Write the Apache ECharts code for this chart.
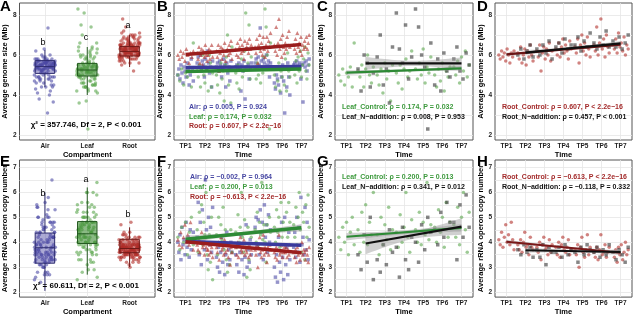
<!DOCTYPE html>
<html>
<head>
<meta charset="utf-8">
<script src="https://cdn.jsdelivr.net/npm/echarts@6/dist/echarts.min.js"></script>
<style>html,body{margin:0;padding:0;background:#fff}#chart{width:635px;height:317px}</style>
</head>
<body>
<div id="chart"></div>
<script>
var FONT = '"Liberation Sans", Arial, sans-serif';
var timePoints = ['TP1', 'TP2', 'TP3', 'TP4', 'TP5', 'TP6', 'TP7'];
var compartments = ['Air', 'Leaf', 'Root'];

// average genome size (Mb), one list per time point
var gsAir = [
    [5.0, 5.3, 4.8, 5.5, 5.1, 4.6, 5.4, 5.2, 4.9, 5.6, 5.3, 4.5, 5.0, 5.8, 5.2, 4.7],
    [5.6, 5.9, 5.4, 6.0, 5.2, 5.7, 5.5, 4.9, 5.8, 5.3, 6.2, 5.6, 5.1, 5.4, 4.4, 5.7],
    [5.4, 5.6, 5.2, 5.7, 5.5, 4.9, 5.3, 5.8, 5.5, 4.4, 5.6, 5.1, 5.4, 4.7, 5.7, 5.3],
    [5.4, 5.5, 5.3, 5.6, 5.4, 4.2, 5.5, 5.2, 5.7, 3.8, 5.4, 6.3, 5.5, 4.8, 5.3, 5.6],
    [5.6, 5.8, 5.4, 5.9, 5.5, 7.35, 5.7, 5.3, 5.8, 5.6, 5.4, 6.0, 5.5, 5.7, 4.9, 5.6],
    [4.6, 4.3, 5.0, 4.8, 4.5, 5.4, 4.1, 4.9, 5.5, 4.7, 3.1, 5.3, 4.4, 5.6, 4.9, 4.0],
    [5.5, 5.6, 5.4, 5.7, 5.5, 5.3, 5.6, 4.8, 5.5, 3.65, 5.6, 5.4, 5.7, 5.2, 5.5, 5.8]
];
var gsLeafCtrl = [
    [5.0, 4.7, 5.3, 4.5, 5.1, 4.9, 5.4, 4.4, 6.6],
    [5.2, 4.9, 5.5, 4.4, 5.3, 6.0, 5.0, 4.6, 5.4],
    [5.0, 4.5, 5.3, 4.1, 5.6, 4.8, 5.2, 3.7, 5.5],
    [5.1, 4.6, 5.5, 4.3, 5.3, 5.8, 4.9, 5.2, 6.2],
    [5.3, 4.8, 5.6, 5.0, 6.3, 4.6, 5.4, 5.1, 5.9],
    [5.0, 4.4, 5.3, 4.7, 5.6, 4.2, 5.2, 4.9, 5.4],
    [5.4, 5.0, 5.7, 4.6, 5.9, 5.2, 6.2, 4.9, 5.5]
];
var gsLeafN = [
    [],
    [5.3, 4.2, 6.0, 5.6, 4.4, 5.1],
    [5.9, 7.0, 4.5, 5.3, 3.6, 6.4],
    [8.1, 6.3, 5.6, 7.5, 4.8, 5.9],
    [8.3, 7.4, 6.0, 5.4, 2.3, 6.6],
    [4.5, 5.8, 4.2, 6.1, 5.2, 4.9],
    [5.8, 6.4, 5.2, 4.8, 6.1, 5.5]
];
var gsRootCtrl = [
    [6.0, 5.8, 6.2, 5.9, 6.1, 5.7, 6.3, 6.0, 5.6, 6.1, 5.9, 6.2],
    [6.1, 5.8, 6.4, 5.6, 6.0, 6.3, 5.5, 6.2, 5.9, 6.5, 6.0, 5.7],
    [6.2, 5.9, 6.5, 5.2, 6.1, 6.4, 5.8, 6.3, 6.0, 6.6, 5.7, 6.2],
    [6.3, 6.0, 6.6, 5.9, 6.4, 6.8, 6.1, 6.5, 6.2, 5.8, 6.7, 6.3],
    [6.4, 6.1, 6.8, 5.6, 6.5, 7.0, 6.2, 6.6, 6.0, 6.9, 6.3, 5.9],
    [6.5, 6.2, 7.4, 6.0, 6.6, 7.8, 6.3, 6.8, 5.9, 7.0, 6.4, 6.1],
    [6.5, 6.3, 6.8, 6.1, 7.1, 6.4, 6.6, 6.2, 6.9, 6.0, 6.5, 6.3]
];
var gsRootN = [
    [],
    [6.0, 6.3, 5.8, 6.2, 6.5, 5.9],
    [6.3, 6.0, 6.5, 6.1, 6.7, 5.8],
    [6.4, 6.6, 6.1, 6.8, 6.3, 6.5],
    [6.5, 6.9, 6.2, 6.7, 6.4, 7.1],
    [6.6, 6.3, 6.9, 6.5, 7.2, 6.4],
    [6.7, 6.4, 6.9, 6.3, 6.6, 7.0]
];

// average rRNA operon copy number, one list per time point
var cnAir = [
    [4.0, 3.6, 4.3, 3.3, 4.6, 3.9, 4.1, 3.5, 4.8, 3.8, 4.2, 3.4, 4.5, 3.7, 4.0, 4.4],
    [4.2, 5.6, 3.5, 4.8, 3.1, 5.3, 4.0, 3.7, 6.5, 4.5, 3.3, 5.0, 3.9, 4.6, 3.6, 5.4],
    [3.4, 3.0, 3.8, 2.8, 3.6, 4.2, 3.2, 3.9, 2.7, 3.5, 4.4, 3.1, 3.7, 3.3, 4.0, 3.6],
    [3.5, 3.1, 3.9, 2.8, 3.6, 4.3, 3.3, 3.8, 2.7, 3.4, 4.7, 3.0, 3.7, 3.2, 4.1, 3.5],
    [4.6, 5.0, 3.8, 4.9, 3.5, 5.3, 4.4, 4.8, 3.3, 5.5, 4.2, 4.7, 3.6, 5.1, 4.0, 4.5],
    [3.0, 2.6, 3.5, 2.4, 4.2, 3.2, 2.8, 4.8, 3.4, 2.5, 5.0, 3.1, 3.8, 2.7, 4.4, 3.3],
    [3.8, 4.4, 3.4, 5.0, 3.6, 4.6, 3.2, 5.8, 3.9, 4.2, 3.5, 5.4, 3.7, 4.8, 3.3, 4.1]
];
var cnLeafCtrl = [
    [4.2, 3.7, 4.6, 4.0, 4.8, 3.5, 4.4, 5.0, 3.9],
    [4.5, 3.6, 5.2, 4.0, 5.5, 3.9, 4.8, 4.3, 6.0],
    [4.3, 3.5, 5.0, 3.9, 4.7, 4.1, 5.4, 3.7, 4.5],
    [4.4, 3.8, 5.1, 4.0, 4.6, 6.0, 4.2, 3.6, 4.9],
    [4.5, 4.0, 5.2, 3.9, 4.8, 4.3, 6.4, 4.1, 4.7],
    [4.6, 4.0, 5.3, 4.4, 5.0, 3.8, 5.6, 4.2, 4.8],
    [4.7, 4.2, 5.4, 3.9, 5.0, 6.0, 4.5, 3.6, 5.2]
];
var cnLeafN = [
    [],
    [3.5, 2.9, 4.3, 3.2, 5.0, 2.5],
    [3.3, 2.8, 3.9, 3.1, 4.5, 3.6],
    [3.8, 2.6, 4.6, 3.3, 2.9, 4.2],
    [4.0, 3.2, 4.7, 3.7, 5.0, 4.4],
    [4.5, 3.9, 5.2, 4.2, 5.6, 4.8],
    [4.8, 3.3, 5.5, 4.2, 5.9, 4.6]
];
var cnRootCtrl = [
    [4.1, 3.9, 4.4, 3.8, 4.2, 4.7, 4.0, 4.3, 3.9, 4.8, 4.1, 3.7],
    [3.9, 3.7, 4.1, 3.6, 4.0, 4.4, 3.8, 3.9, 3.5, 4.2, 3.8, 3.7],
    [3.8, 3.6, 4.0, 3.3, 3.9, 4.2, 3.7, 3.8, 3.5, 4.1, 3.6, 3.9],
    [3.8, 3.5, 4.0, 3.4, 3.9, 4.2, 3.7, 3.6, 3.8, 4.1, 3.5, 3.7],
    [3.7, 3.5, 3.9, 3.0, 3.8, 4.2, 3.6, 3.4, 3.7, 4.3, 3.5, 3.8],
    [3.6, 3.4, 3.8, 3.3, 3.7, 4.3, 3.5, 3.6, 3.9, 3.4, 3.6, 3.8],
    [3.6, 3.4, 3.7, 3.2, 3.8, 3.5, 3.9, 3.3, 3.6, 4.0, 3.5, 3.7]
];
var cnRootN = [
    [],
    [3.7, 3.5, 3.9, 3.6, 3.8, 3.4],
    [3.7, 3.4, 3.9, 3.1, 3.8, 3.6],
    [3.6, 3.8, 3.4, 3.9, 3.5, 3.7],
    [3.6, 3.2, 3.8, 3.5, 3.9, 3.7],
    [3.6, 3.8, 3.4, 3.7, 3.5, 3.9],
    [3.6, 3.3, 3.7, 3.5, 3.2, 3.8]
];

// box stats [lower whisker, Q1, median, Q3, upper whisker]
var boxGsAir = [4.4, 5.08, 5.42, 5.72, 6.25];
var boxGsLeaf = [4.0, 4.95, 5.25, 5.58, 6.4];
var boxGsRoot = [5.4, 5.95, 6.18, 6.42, 7.0];
var boxCnAir = [2.05, 3.16, 3.78, 4.37, 6.0];
var boxCnLeaf = [2.7, 3.95, 4.34, 4.83, 6.2];
var boxCnRoot = [3.0, 3.58, 3.75, 4.12, 4.6];
var letterGs = ['b', 'c', 'a'];
var letterCn = ['b', 'a', 'b'];

// fitted lines [x1, y1, x2, y2] and CI half widths [start, middle, end]
var fitGsAir = [1, 5.38, 7, 5.42];
var fitGsLeaf = [1, 5.17, 7, 5.30];
var fitGsRoot = [1, 6.03, 7, 6.53];
var fitGsLeafCtrl = [1, 5.12, 7, 5.33], ciGsLeafCtrl = [0.12, 0.06, 0.12];
var fitGsLeafN = [2, 5.58, 7, 5.58], ciGsLeafN = [0.32, 0.13, 0.30];
var fitGsRootCtrl = [1, 6.03, 7, 6.52], ciGsRootCtrl = [0.08, 0.04, 0.08];
var fitGsRootN = [2, 6.12, 7, 6.58], ciGsRootN = [0.12, 0.06, 0.12];
var fitCnAir = [1, 4.03, 7, 3.88];
var fitCnLeaf = [1, 4.12, 7, 4.58], ciCnLeaf = [0.15, 0.07, 0.15];
var fitCnRoot = [1, 4.02, 7, 3.58];
var fitCnLeafCtrl = [1, 4.22, 7, 4.58], ciCnLeafCtrl = [0.15, 0.08, 0.15];
var fitCnLeafN = [2, 3.95, 7, 4.63], ciCnLeafN = [0.43, 0.15, 0.33];
var fitCnRootCtrl = [1, 4.02, 7, 3.58], ciCnRootCtrl = [0.08, 0.04, 0.08];
var fitCnRootN = [2, 3.68, 7, 3.61], ciCnRootN = [0.10, 0.05, 0.10];

var colAir = '#4f4ca6', colLeaf = '#5ba64f', colRoot = '#b3302c', colN = '#333333';
var lnAir = '#3a3a9c', lnLeaf = '#2d8a35', lnRoot = '#9a1d1d', lnN = '#111111';
var txAir = '#4747a3', txLeaf = '#3d9a3d', txRoot = '#a32a2a';
var GRID_C = '#e6e6e6';

var grids = [
    {left: 17, top: 3, width: 138, height: 137},
    {left: 174, top: 3, width: 139, height: 137},
    {left: 335, top: 3, width: 138, height: 137},
    {left: 495, top: 3, width: 138, height: 137},
    {left: 17, top: 160, width: 138, height: 138},
    {left: 174, top: 160, width: 139, height: 138},
    {left: 335, top: 160, width: 138, height: 138},
    {left: 495, top: 160, width: 138, height: 138}
];
grids.forEach(function (g) {
    g.show = true; g.borderColor = '#555'; g.borderWidth = 1; g.backgroundColor = '#fff';
});

function near(v) { var r = Math.round(v); return Math.abs(v - r) < 1e-6 ? r : null; }

function xAxisFor(gi) {
    var isBox = gi === 0 || gi === 4;
    return {
        type: 'value', gridIndex: gi, min: 0.4, max: isBox ? 3.6 : 7.6, interval: 0.2,
        name: isBox ? 'Compartment' : 'Time', nameLocation: 'middle', nameGap: 9,
        nameTextStyle: {fontFamily: FONT, fontWeight: 'bold', fontSize: 7.5, color: '#000'},
        axisLine: {show: false}, axisTick: {show: false},
        axisLabel: {
            margin: 3, fontFamily: FONT, fontWeight: 'bold', fontSize: 6.5, color: '#222',
            formatter: function (v) {
                var r = near(v);
                if (r === null || r < 1) return '';
                if (isBox) return r <= 3 ? compartments[r - 1] : '';
                return r <= 7 ? timePoints[r - 1] : '';
            }
        },
        splitLine: {show: true, lineStyle: {width: 0.8, color: ['rgba(0,0,0,0)', 'rgba(0,0,0,0)', 'rgba(0,0,0,0)', GRID_C, 'rgba(0,0,0,0)']}}
    };
}

function yAxisFor(gi) {
    var row1 = gi < 4;
    var none = 'rgba(0,0,0,0)';
    return {
        type: 'value', gridIndex: gi,
        min: row1 ? 1.75 : 1.8, max: row1 ? 8.6 : 7.3, interval: row1 ? 0.25 : 0.1,
        name: row1 ? 'Average genome size (Mb)' : 'Average rRNA operon copy number',
        nameLocation: 'middle', nameGap: 8,
        nameTextStyle: {fontFamily: FONT, fontWeight: 'bold', fontSize: 7.5, color: '#000'},
        axisLine: {show: false}, axisTick: {show: false},
        axisLabel: {
            margin: 3, fontFamily: FONT, fontWeight: 'bold', fontSize: 6.5, color: '#222',
            formatter: function (v) {
                var r = near(v);
                if (r === null) return '';
                if (row1) return r % 2 === 0 ? r : '';
                return r >= 2 && r <= 7 ? r : '';
            }
        },
        splitLine: {show: true, lineStyle: {width: 0.8,
            color: row1 ? [none, GRID_C, none, none] : [none, none, GRID_C, none, none]}}
    };
}

function byTime(lists, w) {
    var out = [];
    lists.forEach(function (vals, t) {
        var n = vals.length;
        vals.forEach(function (v, i) {
            out.push([t + 1 + (n > 1 ? -w + 2 * w * i / (n - 1) : 0), v]);
        });
    });
    return out;
}
function mergeTime(a, b) {
    return a.map(function (l, t) { return l.concat(b[t]); });
}
function pooled(listsArr, cx, w) {
    var vals = [];
    listsArr.forEach(function (lists) {
        lists.forEach(function (l) { vals = vals.concat(l); });
    });
    return vals.map(function (v, i) {
        var f = (i * 0.6180339887) % 1;
        return [cx - w + 2 * w * f, v];
    });
}

function scatter(gi, data, color, symbol, size) {
    return {type: 'scatter', xAxisIndex: gi, yAxisIndex: gi, data: data, symbol: symbol,
        symbolSize: size || 3.5, itemStyle: {color: color, opacity: 0.6}, silent: true, z: 2};
}
function fitLine(gi, fit, color, width) {
    return {type: 'line', xAxisIndex: gi, yAxisIndex: gi, data: [[fit[0], fit[1]], [fit[2], fit[3]]],
        symbol: 'none', lineStyle: {color: color, width: width}, silent: true, z: 5};
}
function band(gi, fit, ci) {
    return {
        type: 'custom', xAxisIndex: gi, yAxisIndex: gi, silent: true, z: 4,
        data: [fit.concat(ci)], encode: {x: [0, 2], y: [1, 3]},
        renderItem: function (params, api) {
            var x1 = api.value(0), y1 = api.value(1), x2 = api.value(2), y2 = api.value(3);
            var h1 = api.value(4), hm = api.value(5), h2 = api.value(6);
            var xm = (x1 + x2) / 2, d = (x2 - x1) / 2, up = [], lo = [];
            for (var k = 0; k <= 30; k++) {
                var x = x1 + (x2 - x1) * k / 30, y = y1 + (y2 - y1) * k / 30;
                var he = x < xm ? h1 : h2, r = (x - xm) / d;
                var h = Math.sqrt(hm * hm + (he * he - hm * hm) * r * r);
                up.push(api.coord([x, y + h]));
                lo.unshift(api.coord([x, y - h]));
            }
            return {type: 'polygon', shape: {points: up.concat(lo)},
                style: {fill: 'rgba(150,150,150,0.45)'}};
        }
    };
}
function boxSeries(gi, cx, stats, fill, stroke) {
    return {
        type: 'custom', xAxisIndex: gi, yAxisIndex: gi, silent: true, z: 3,
        data: [[cx].concat(stats)], encode: {x: 0, y: [1, 2, 3, 4, 5]},
        renderItem: function (params, api) {
            var x = api.value(0), hw = 0.23;
            var lo = api.coord([x, api.value(1)]), q1 = api.coord([x - hw, api.value(2)]);
            var md = api.value(3), q3 = api.coord([x + hw, api.value(4)]), hi = api.coord([x, api.value(5)]);
            var m1 = api.coord([x - hw, md]), m2 = api.coord([x + hw, md]);
            var ls = {stroke: stroke, lineWidth: 1};
            return {type: 'group', children: [
                {type: 'line', shape: {x1: lo[0], y1: lo[1], x2: lo[0], y2: q1[1]}, style: ls},
                {type: 'line', shape: {x1: hi[0], y1: hi[1], x2: hi[0], y2: q3[1]}, style: ls},
                {type: 'rect', shape: {x: q1[0], y: q3[1], width: q3[0] - q1[0], height: q1[1] - q3[1]},
                    style: {fill: fill, stroke: stroke, lineWidth: 1}},
                {type: 'line', shape: {x1: m1[0], y1: m1[1], x2: m2[0], y2: m2[1]}, style: ls}
            ]};
        }
    };
}

var series = [];
// A
series.push(scatter(0, pooled([gsAir], 1, 0.25), colAir, 'circle'));
series.push(scatter(0, pooled([gsLeafCtrl, gsLeafN], 2, 0.25), colLeaf, 'circle'));
series.push(scatter(0, pooled([gsRootCtrl, gsRootN], 3, 0.25), colRoot, 'circle'));
series.push(boxSeries(0, 1, boxGsAir, 'rgba(70,66,160,0.45)', '#2e2c70'));
series.push(boxSeries(0, 2, boxGsLeaf, 'rgba(60,140,50,0.6)', '#245a20'));
series.push(boxSeries(0, 3, boxGsRoot, 'rgba(170,40,36,0.5)', '#6e1a18'));
// B
series.push(scatter(1, byTime(gsAir, 0.4), colAir, 'rect'));
series.push(scatter(1, byTime(mergeTime(gsLeafCtrl, gsLeafN), 0.4), colLeaf, 'circle'));
series.push(scatter(1, byTime(mergeTime(gsRootCtrl, gsRootN), 0.4), colRoot, 'triangle', 4));
series.push(fitLine(1, fitGsRoot, lnRoot, 3.5));
series.push(fitLine(1, fitGsAir, lnAir, 3.5));
series.push(fitLine(1, fitGsLeaf, lnLeaf, 3.5));
// C
series.push(scatter(2, byTime(gsLeafCtrl, 0.4), colLeaf, 'circle'));
series.push(scatter(2, byTime(gsLeafN, 0.4), colN, 'rect'));
series.push(band(2, fitGsLeafCtrl, ciGsLeafCtrl));
series.push(band(2, fitGsLeafN, ciGsLeafN));
series.push(fitLine(2, fitGsLeafCtrl, lnLeaf, 2.2));
series.push(fitLine(2, fitGsLeafN, lnN, 2.2));
// D
series.push(scatter(3, byTime(gsRootCtrl, 0.4), colRoot, 'circle'));
series.push(scatter(3, byTime(gsRootN, 0.4), colN, 'rect'));
series.push(band(3, fitGsRootCtrl, ciGsRootCtrl));
series.push(band(3, fitGsRootN, ciGsRootN));
series.push(fitLine(3, fitGsRootCtrl, '#6a1414', 2.2));
series.push(fitLine(3, fitGsRootN, lnN, 2.2));
// E
series.push(scatter(4, pooled([cnAir], 1, 0.25), colAir, 'circle'));
series.push(scatter(4, pooled([cnLeafCtrl, cnLeafN], 2, 0.25), colLeaf, 'circle'));
series.push(scatter(4, pooled([cnRootCtrl, cnRootN], 3, 0.25), colRoot, 'circle'));
series.push(boxSeries(4, 1, boxCnAir, 'rgba(70,66,160,0.45)', '#2e2c70'));
series.push(boxSeries(4, 2, boxCnLeaf, 'rgba(60,140,50,0.6)', '#245a20'));
series.push(boxSeries(4, 3, boxCnRoot, 'rgba(170,40,36,0.5)', '#6e1a18'));
// F
series.push(scatter(5, byTime(cnAir, 0.4), colAir, 'rect'));
series.push(scatter(5, byTime(mergeTime(cnLeafCtrl, cnLeafN), 0.4), colLeaf, 'circle'));
series.push(scatter(5, byTime(mergeTime(cnRootCtrl, cnRootN), 0.4), colRoot, 'triangle', 4));
series.push(band(5, fitCnLeaf, ciCnLeaf));
series.push(fitLine(5, fitCnAir, lnAir, 3.5));
series.push(fitLine(5, fitCnLeaf, lnLeaf, 3.5));
series.push(fitLine(5, fitCnRoot, lnRoot, 3.5));
// G
series.push(scatter(6, byTime(cnLeafCtrl, 0.4), colLeaf, 'circle'));
series.push(scatter(6, byTime(cnLeafN, 0.4), colN, 'rect'));
series.push(band(6, fitCnLeafCtrl, ciCnLeafCtrl));
series.push(band(6, fitCnLeafN, ciCnLeafN));
series.push(fitLine(6, fitCnLeafCtrl, lnLeaf, 2.2));
series.push(fitLine(6, fitCnLeafN, lnN, 2.2));
// H
series.push(scatter(7, byTime(cnRootCtrl, 0.4), colRoot, 'circle'));
series.push(scatter(7, byTime(cnRootN, 0.4), colN, 'rect'));
series.push(band(7, fitCnRootCtrl, ciCnRootCtrl));
series.push(band(7, fitCnRootN, ciCnRootN));
series.push(fitLine(7, fitCnRootCtrl, '#7a1818', 2.2));
series.push(fitLine(7, fitCnRootN, lnN, 2.2));

function txt(x, y, text, color, size, weight, align) {
    return {type: 'text', x: x, y: y, silent: true, z: 100,
        style: {text: text, fill: color, fontFamily: FONT, fontSize: size,
            fontWeight: weight || 'bold', align: align || 'left', verticalAlign: 'middle'}};
}

var graphics = [];
['A', 'B', 'C', 'D'].forEach(function (l, i) {
    graphics.push(txt([0, 157, 317, 477][i], 7, l, '#000', 15, 'bold'));
});
['E', 'F', 'G', 'H'].forEach(function (l, i) {
    graphics.push(txt([0, 157, 317, 477][i], 162, l, '#000', 15, 'bold'));
});
[43, 86, 128].forEach(function (x, i) {
    graphics.push(txt(x, [43, 38, 26][i], letterGs[i], '#000', 9, 'normal', 'center'));
    graphics.push(txt(x, [194, 180, 215][i], letterCn[i], '#000', 9, 'normal', 'center'));
});
graphics.push(txt(86, 125, 'χ² = 357.746, Df = 2, P < 0.001', '#000', 8, 'bold', 'center'));
graphics.push(txt(86, 286, 'χ² = 60.611, Df = 2, P < 0.001', '#000', 8, 'bold', 'center'));

graphics.push(txt(189, 107, 'Air: ρ = 0.005, P = 0.924', txAir, 7));
graphics.push(txt(189, 117, 'Leaf: ρ = 0.174, P = 0.032', txLeaf, 7));
graphics.push(txt(189, 126, 'Root: ρ = 0.607, P < 2.2e−16', txRoot, 7));
graphics.push(txt(342, 107, 'Leaf_Control: ρ = 0.174, P = 0.032', txLeaf, 7));
graphics.push(txt(342, 117, 'Leaf_N−addition: ρ = 0.008, P = 0.953', '#111', 7));
graphics.push(txt(502, 107, 'Root_Control: ρ = 0.607, P < 2.2e−16', txRoot, 7));
graphics.push(txt(502, 117, 'Root_N−addition: ρ = 0.457, P < 0.001', '#111', 7));
graphics.push(txt(190, 177, 'Air: ρ = −0.002, P = 0.964', txAir, 7));
graphics.push(txt(190, 187, 'Leaf: ρ = 0.200, P = 0.013', txLeaf, 7));
graphics.push(txt(190, 197, 'Root: ρ = −0.613, P < 2.2e−16', txRoot, 7));
graphics.push(txt(342, 177, 'Leaf_Control: ρ = 0.200, P = 0.013', txLeaf, 7));
graphics.push(txt(342, 187, 'Leaf_N−addition: ρ = 0.341, P = 0.012', '#111', 7));
graphics.push(txt(502, 177, 'Root_Control: ρ = −0.613, P < 2.2e−16', txRoot, 7));
graphics.push(txt(502, 187, 'Root_N−addition: ρ = −0.118, P = 0.332', '#111', 7));

var chart = echarts.init(document.getElementById('chart'), null, {renderer: 'canvas'});
chart.setOption({
    backgroundColor: '#fff',
    animation: false,
    grid: grids,
    xAxis: grids.map(function (g, i) { return xAxisFor(i); }),
    yAxis: grids.map(function (g, i) { return yAxisFor(i); }),
    series: series,
    graphic: graphics
});
</script>
</body>
</html>
